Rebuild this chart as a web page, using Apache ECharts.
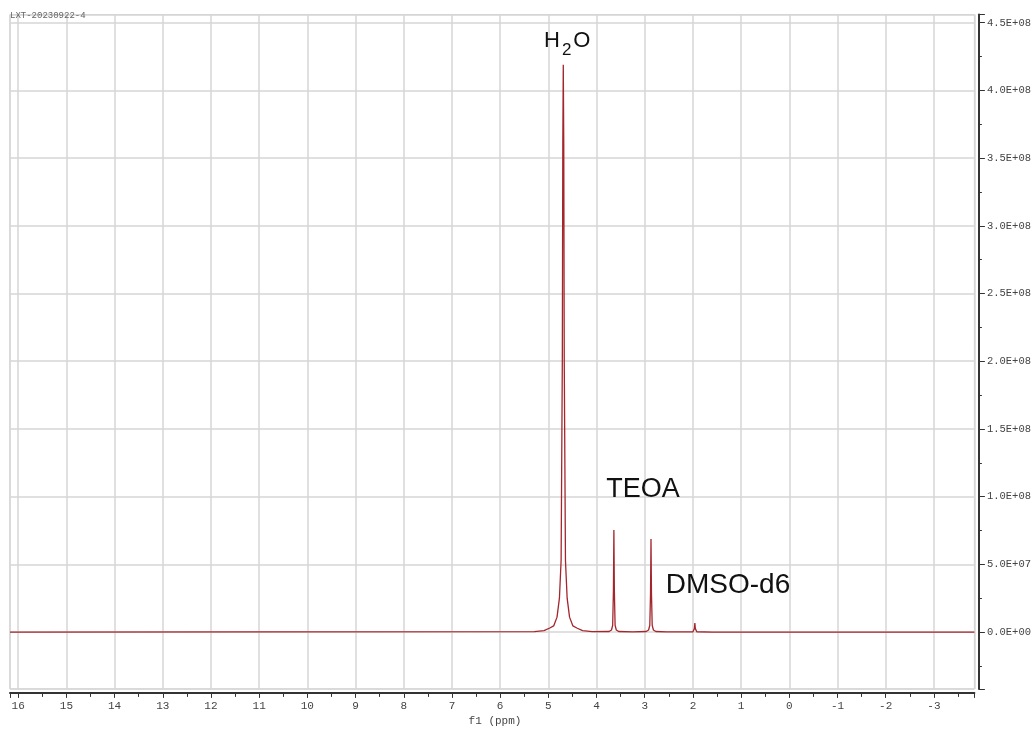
<!DOCTYPE html>
<html>
<head>
<meta charset="utf-8">
<title>1H NMR spectrum</title>
<script src="https://cdn.jsdelivr.net/npm/echarts@6/dist/echarts.min.js"></script>
<style>
  html, body { margin: 0; padding: 0; background: #ffffff; }
  #chart { width: 1034px; height: 729px; }
</style>
</head>
<body>
<div id="chart"></div>
<script>
// Chemical shift (ppm) of each sampled point, high field to the right
const ppm = [
  16.17, 5.29, 5.09, 4.97, 4.89, 4.82, 4.77, 4.735, 4.71, 4.70,
  4.69, 4.68, 4.67, 4.645, 4.61, 4.56, 4.49, 4.41, 4.29, 4.09,
  3.74, 3.69, 3.665, 3.65, 3.64, 3.63, 3.615, 3.59, 3.54, 3.25,
  2.97, 2.92, 2.895, 2.88, 2.87, 2.86, 2.845, 2.82, 2.77, 2.55,
  2.00, 1.97, 1.96, 1.95, 1.92, 1.60, -3.84
];
// Signal intensity at each of the shifts above
const intensity = [
  0, 3e5, 1.0e6, 3.0e6, 4.5e6, 1.1e7, 2.5e7, 5.3e7, 2.0e8, 3.6e8,
  4.19e8, 3.6e8, 2.0e8, 5.3e7, 2.5e7, 1.1e7, 4.5e6, 3.0e6, 1.0e6, 3e5,
  4e5, 1.5e6, 5e6, 3.0e7, 7.53e7, 3.0e7, 5e6, 1.5e6, 4e5, 1e5,
  4e5, 1.5e6, 5e6, 2.8e7, 6.87e7, 2.8e7, 5e6, 1.5e6, 4e5, 1e5,
  2e5, 2.5e6, 6.6e6, 2.5e6, 2e5, 0, 0
];
// Axis extents
const xRange = [-3.84, 16.17];
const yRange = [-4.2e7, 4.56e8];
const sampleName = 'LXT-20230922-4';

const seriesData = ppm.map((p, i) => [p, intensity[i]]);

function sci(v) {
  if (v === 0) return '0.0E+00';
  const e = Math.floor(Math.log10(Math.abs(v)) + 1e-9);
  const m = v / Math.pow(10, e);
  const sign = e < 0 ? '-' : '+';
  const ee = String(Math.abs(e)).padStart(2, '0');
  return m.toFixed(1) + 'E' + sign + ee;
}

const monoFont = '"Liberation Mono", "DejaVu Sans Mono", monospace';
const labelFont = '"Liberation Sans", Arial, sans-serif';

const chart = echarts.init(document.getElementById('chart'), null, { renderer: 'canvas' });

chart.setOption({
  backgroundColor: '#ffffff',
  animation: false,
  grid: {
    left: 10, right: 59.5, top: 14.6, bottom: 40.1,
    show: true, borderColor: '#cfcfcf', borderWidth: 1
  },
  xAxis: {
    type: 'value',
    inverse: true,
    min: xRange[0],
    max: xRange[1],
    splitNumber: 20,
    offset: 4,
    axisLine: { show: true, onZero: false, lineStyle: { color: '#333', width: 2 } },
    axisTick: { show: true, inside: false, length: 5, lineStyle: { color: '#333', width: 1 } },
    minorTick: { show: true, splitNumber: 2, length: 4, lineStyle: { color: '#333', width: 1 } },
    axisLabel: {
      showMinLabel: false, showMaxLabel: false,
      margin: 8, color: '#444', fontFamily: monoFont, fontSize: 11
    },
    splitLine: { show: true, lineStyle: { color: '#d6d6d6', width: 1.5 } }
  },
  yAxis: {
    type: 'value',
    position: 'right',
    min: yRange[0],
    max: yRange[1],
    splitNumber: 10,
    offset: 4.5,
    axisLine: { show: true, onZero: false, lineStyle: { color: '#333', width: 2 } },
    axisTick: { show: true, inside: false, length: 6, lineStyle: { color: '#333', width: 1 } },
    minorTick: { show: true, splitNumber: 2, length: 3, lineStyle: { color: '#333', width: 1 } },
    axisLabel: {
      showMinLabel: false, showMaxLabel: false,
      margin: 8, color: '#444', fontFamily: monoFont, fontSize: 10.5,
      formatter: sci
    },
    splitLine: { show: true, lineStyle: { color: '#d6d6d6', width: 1.5 } }
  },
  series: [{
    type: 'line',
    data: seriesData,
    showSymbol: false,
    symbol: 'none',
    clip: true,
    lineStyle: { color: '#a3262c', width: 1.3 },
    z: 5
  }],
  graphic: [
    {
      type: 'text', left: 10, top: 11, z: 10,
      style: { text: sampleName, font: '9px ' + monoFont, fill: '#666' }
    },
    {
      type: 'text', x: 544, y: 52, z: 10,
      style: {
        text: '{b|H}{s|2}{b|O}',
        verticalAlign: 'bottom',
        rich: {
          b: { fontFamily: labelFont, fontSize: 22, fill: '#111', verticalAlign: 'bottom' },
          s: { fontFamily: labelFont, fontSize: 17, fill: '#111', verticalAlign: 'bottom', padding: [0, 2, -7, 2] }
        }
      }
    },
    {
      type: 'text', x: 643, y: 490, z: 10,
      style: { text: 'TEOA', font: '27px ' + labelFont, fill: '#111', align: 'center', verticalAlign: 'middle' }
    },
    {
      type: 'text', x: 728, y: 585, z: 10,
      style: { text: 'DMSO-d6', font: '28px ' + labelFont, fill: '#111', align: 'center', verticalAlign: 'middle' }
    },
    {
      type: 'text', x: 495, y: 721, z: 10,
      style: { text: 'f1 (ppm)', font: '11px ' + monoFont, fill: '#444', align: 'center', verticalAlign: 'middle' }
    }
  ]
});
</script>
</body>
</html>
